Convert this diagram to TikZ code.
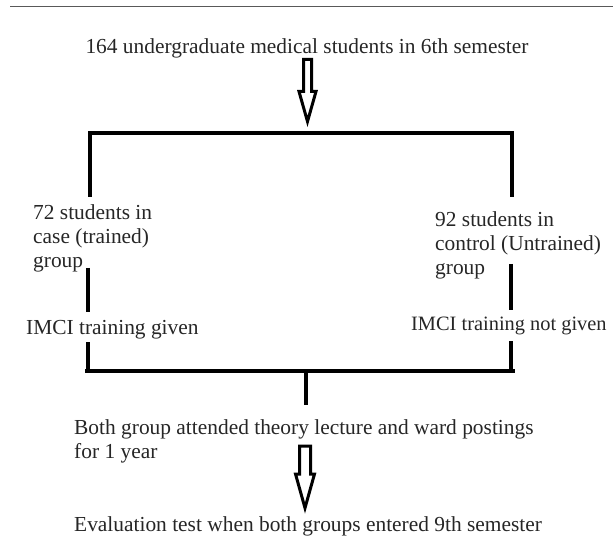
\documentclass[tikz,border=0pt]{standalone}
\usepackage{fontspec}
\setmainfont{Liberation Serif}
\begin{document}
\begin{tikzpicture}[x=1pt,y=-1pt,
  txt/.style={font=\fontsize{21.4}{24}\selectfont, inner sep=0pt, align=left, text=black!85},
  conn/.style={line width=3.6pt, line join=miter},
  hollow/.style={line width=3pt, fill=white, line join=miter, miter limit=20},
  rule/.style={line width=1pt, black!65}]
\useasboundingbox (0,0) rectangle (613,537);

\draw[rule] (10,7) -- (613,7);

% texts
\node[txt, anchor=north] (top) at (307,38) {164 undergraduate medical students in 6th semester};
\node[txt, anchor=north west] (case) at (33,204) {72 students in\\case (trained)\\group};
\node[txt, anchor=north west] (ctrl) at (435,211) {92 students in\\control (Untrained)\\group};
\node[txt, anchor=north west] (given) at (26,320.5) {IMCI training given};
\node[txt, anchor=north west, font=\fontsize{20.4}{24}\selectfont] (notgiven) at (411,317) {IMCI training not given};
\node[txt, anchor=north west] (both) at (74,419) {Both group attended theory lecture and ward postings\\for 1 year};
\node[txt, anchor=north west] (eval) at (74,516.5) {Evaluation test when both groups entered 9th semester};

% hollow arrows
\coordinate (a1) at (307.5,59.5);
\coordinate (a2) at (305,446);
\draw[hollow, shift={(a1)}] (-4,0) -- (4,0) -- (4,32) -- (8.5,32) -- (0,62) -- (-8.5,32) -- (-4,32) -- cycle;
\draw[hollow, shift={(a2)}] (-5.5,0) -- (5.5,0) -- (5.5,28) -- (9.5,28) -- (0,62) -- (-9.5,28) -- (-5.5,28) -- cycle;

% upper split
\coordinate (bl1) at (90,133);
\coordinate (br1) at (512,133);
\coordinate (l1) at (90,197);
\coordinate (r1) at (512,197);
\draw[conn] (l1) -- (bl1) -- (br1) -- (r1);

% middle verticals
\coordinate (l2a) at (88,268); \coordinate (l2b) at (88,312);
\coordinate (r2a) at (511,264); \coordinate (r2b) at (511,310);
\draw[conn] (l2a) -- (l2b);
\draw[conn] (r2a) -- (r2b);

% lower join
\coordinate (l3) at (88,342);
\coordinate (r3) at (511,341);
\coordinate (bl3) at (85,371);
\coordinate (br3) at (515,371);
\coordinate (m3) at (306,371);
\coordinate (m4) at (306,405);
\draw[conn] (bl3) -- (br3);
\draw[conn] (l3) -- (l3 |- bl3);
\draw[conn] (r3) -- (r3 |- br3);
\draw[conn] (m3) -- (m4);
\end{tikzpicture}
\end{document}
